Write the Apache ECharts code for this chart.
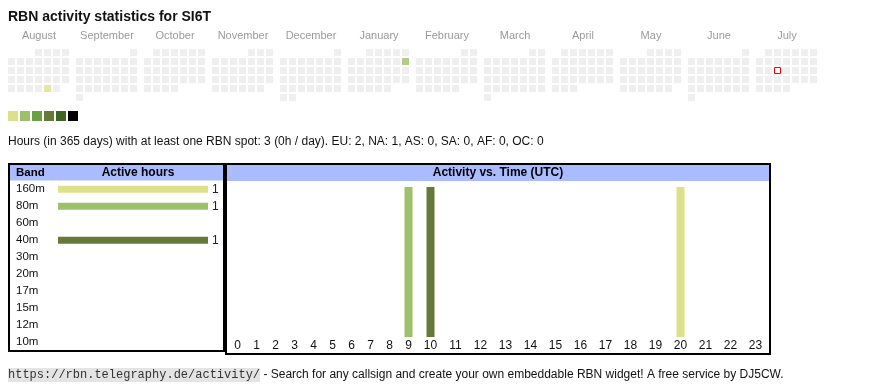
<!DOCTYPE html>
<html>
<head>
<meta charset="utf-8">
<script src="https://cdn.jsdelivr.net/npm/echarts@6/dist/echarts.min.js"></script>
<style>
html,body{margin:0;padding:0;background:#fff;}
#chart{width:870px;height:390px;}
</style>
</head>
<body>
<div id="chart"></div>
<script>
// ---------- data ----------
const titleText = 'RBN activity statistics for SI6T';
const months = ['2024-08','2024-09','2024-10','2024-11','2024-12','2025-01','2025-02','2025-03','2025-04','2025-05','2025-06','2025-07'];
const monthNames = ['August','September','October','November','December','January','February','March','April','May','June','July'];
const activeDays = ['2024-08-30', '2025-01-12'];
const activeDayHours = [1, 2];
const todayDate = '2025-07-16';
const legendLevels = [1, 2, 3, 4, 5, 6];
const levelColors = ['#dce189', '#9dc06a', '#68a043', '#667a38', '#3b6623', '#000000'];
const summaryText = 'Hours (in 365 days) with at least one RBN spot: 3 (0h / day). EU: 2, NA: 1, AS: 0, SA: 0, AF: 0, OC: 0';

const bands = ['160m','80m','60m','40m','30m','20m','17m','15m','12m','10m'];
const bandHours = [1, 1, 0, 1, 0, 0, 0, 0, 0, 0];
const bandColors = ['#dce189','#9dc06a','#68a043','#657a39','#3b6623','#2e5020','#1f3a16','#14280e','#0a1807','#000000'];

const hourLabels = ['0','1','2','3','4','5','6','7','8','9','10','11','12','13','14','15','16','17','18','19','20','21','22','23'];
const hours160m = [0,0,0,0,0,0,0,0,0,0,0,0,0,0,0,0,0,0,0,0,1,0,0,0];
const hours80m  = [0,0,0,0,0,0,0,0,0,1,0,0,0,0,0,0,0,0,0,0,0,0,0,0];
const hours40m  = [0,0,0,0,0,0,0,0,0,0,1,0,0,0,0,0,0,0,0,0,0,0,0,0];

const footerUrl = 'https://rbn.telegraphy.de/activity/';
const footerText = ' - Search for any callsign and create your own embeddable RBN widget! A free service by DJ5CW.';

// ---------- layout helpers ----------
const FONT = '"Liberation Sans", Arial, Helvetica, sans-serif';
const CAL_LEFT = 7, CAL_TOP = 48, CAL_STEP = 68, CELL = 9;

function daysOfMonth(ym) {
  const [y, m] = ym.split('-').map(Number);
  const n = new Date(Date.UTC(y, m, 0)).getUTCDate();
  const out = [];
  for (let d = 1; d <= n; d++) out.push(ym + '-' + String(d).padStart(2, '0'));
  return out;
}
function dayValue(d) {
  const i = activeDays.indexOf(d);
  return i >= 0 ? activeDayHours[i] : 0;
}

// hour columns: width grows with label length (like table cells)
const hourCenters = [];
let hourTotal = 0;
hourLabels.forEach(l => {
  const w = 13 + 6 * l.length;
  hourCenters.push(hourTotal + w / 2);
  hourTotal += w;
});

// ---------- components ----------
const calendars = months.map((m, i) => ({
  orient: 'vertical',
  range: m,
  left: CAL_LEFT + i * CAL_STEP,
  top: CAL_TOP,
  cellSize: [CELL, CELL],
  splitLine: { show: false },
  itemStyle: { color: 'transparent', borderWidth: 0 },
  dayLabel: { show: false, firstDay: 1 },
  monthLabel: { show: false },
  yearLabel: { show: false },
  silent: true
}));

const series = [];
months.forEach((m, i) => {
  series.push({
    type: 'scatter',
    coordinateSystem: 'calendar',
    calendarIndex: i,
    symbol: 'rect',
    symbolSize: 7,
    silent: true,
    emphasis: { disabled: true },
    data: daysOfMonth(m).map(d => [d, dayValue(d)])
  });
});
series.push({
  type: 'scatter',
  coordinateSystem: 'calendar',
  calendarIndex: months.indexOf(todayDate.slice(0, 7)),
  symbol: 'rect',
  symbolSize: 6,
  z: 5,
  silent: true,
  emphasis: { disabled: true },
  itemStyle: { color: '#ffffff', borderColor: '#ff0000', borderWidth: 1, opacity: 1 },
  data: [[todayDate, 0]]
});
[['160m', hours160m], ['80m', hours80m], ['40m', hours40m]].forEach(([b, arr]) => {
  series.push({
    type: 'bar',
    name: b,
    xAxisIndex: 0, yAxisIndex: 0,
    stack: 'hours',
    barWidth: 8,
    silent: true,
    itemStyle: { color: bandColors[bands.indexOf(b)] },
    data: arr.map((v, h) => [hourCenters[h], v])
  });
});
series.push({
  type: 'bar',
  xAxisIndex: 1, yAxisIndex: 1,
  barWidth: 7,
  silent: true,
  data: bandHours.map((v, i) => ({ value: v, itemStyle: { color: bandColors[i] } })),
  label: {
    show: true, position: 'right', distance: 4,
    fontFamily: FONT, fontSize: 12, color: '#222',
    formatter: p => (p.value > 0 ? String(p.value) : '')
  }
});

const graphics = [
  { type: 'text', left: 8, top: 10, style: { text: titleText, font: 'bold 14px ' + FONT, fill: '#111' } },
  { type: 'text', x: 8, y: 142, style: { text: summaryText, font: '12px ' + FONT, fill: '#111', textVerticalAlign: 'middle' } },
  // left box
  { type: 'rect', shape: { x: 10, y: 165, width: 214, height: 15.5 }, style: { fill: '#aabbff' }, z: -1 },
  { type: 'rect', shape: { x: 9, y: 164, width: 215, height: 187 }, style: { fill: 'none', stroke: '#000', lineWidth: 2 }, z: 10 },
  { type: 'text', x: 16, y: 173, style: { text: 'Band', font: 'bold 11.5px ' + FONT, fill: '#000', textVerticalAlign: 'middle' } },
  { type: 'text', x: 138, y: 173, style: { text: 'Active hours', font: 'bold 12px ' + FONT, fill: '#000', textAlign: 'center', textVerticalAlign: 'middle' } },
  // right box
  { type: 'rect', shape: { x: 227, y: 165, width: 542, height: 16 }, style: { fill: '#aabbff' }, z: -1 },
  { type: 'rect', shape: { x: 226, y: 164, width: 544, height: 190 }, style: { fill: 'none', stroke: '#000', lineWidth: 2 }, z: 10 },
  { type: 'text', x: 498, y: 173, style: { text: 'Activity vs. Time (UTC)', font: 'bold 12px ' + FONT, fill: '#000', textAlign: 'center', textVerticalAlign: 'middle' } },
  // footer
  { type: 'text', x: 8, y: 375, style: {
      text: '{u|' + footerUrl + '}{t|' + footerText + '}',
      textVerticalAlign: 'middle',
      rich: {
        u: { fontFamily: '"Liberation Mono", "Courier New", monospace', fontSize: 12, fill: '#333', backgroundColor: '#e4e4e4', padding: [1, 0, 1, 0] },
        t: { fontFamily: FONT, fontSize: 12, fill: '#111' }
      } } }
];
monthNames.forEach((n, i) => {
  graphics.push({ type: 'text', x: CAL_LEFT + i * CAL_STEP + 32, y: 35.5,
    style: { text: n, font: '11px ' + FONT, fill: '#9a9a9a', textAlign: 'center', textVerticalAlign: 'middle' } });
});

const option = {
  animation: false,
  textStyle: { fontFamily: FONT },
  calendar: calendars,
  visualMap: {
    type: 'piecewise',
    seriesIndex: months.map((m, i) => i),
    orient: 'horizontal',
    left: 8, top: 111,
    padding: 0,
    itemWidth: 10, itemHeight: 10, itemGap: 2,
    itemSymbol: 'rect',
    showLabel: false,
    selectedMode: false,
    hoverLink: false,
    pieces: legendLevels.map((l, i) => (i === legendLevels.length - 1 ? { gte: l, color: levelColors[i] } : { value: l, color: levelColors[i] })),
    outOfRange: { color: '#ebebeb' }
  },
  grid: [
    { left: 228, top: 187, width: hourTotal, height: 150 },
    { left: 58, top: 180.8, width: 150, height: 170 }
  ],
  xAxis: [
    { gridIndex: 0, type: 'value', min: 0, max: hourTotal,
      axisLine: { show: false }, axisTick: { show: false }, splitLine: { show: false },
      axisLabel: { customValues: hourCenters, margin: 3, fontSize: 12, color: '#111', fontFamily: FONT,
        formatter: v => { const i = hourCenters.findIndex(c => Math.abs(c - v) < 0.01); return i >= 0 ? hourLabels[i] : ''; } } },
    { gridIndex: 1, type: 'value', min: 0, max: v => v.max, show: false }
  ],
  yAxis: [
    { gridIndex: 0, type: 'value', min: 0, max: v => v.max, show: false },
    { gridIndex: 1, type: 'category', data: bands, inverse: true,
      axisLine: { show: false }, axisTick: { show: false }, splitLine: { show: false },
      axisLabel: { align: 'left', margin: 42, fontSize: 11.5, color: '#111', fontFamily: FONT } }
  ],
  graphic: graphics,
  series: series
};

const chart = echarts.init(document.getElementById('chart'), null, { renderer: 'canvas' });
chart.setOption(option);
</script>
</body>
</html>
